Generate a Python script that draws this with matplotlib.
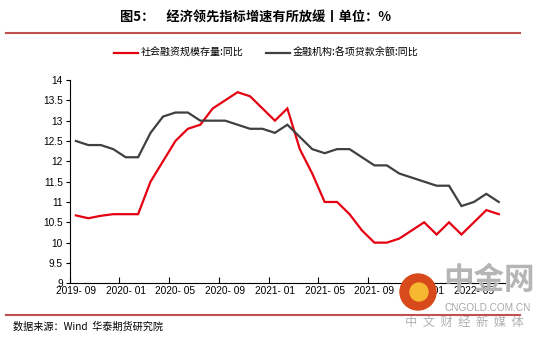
import matplotlib
matplotlib.use("Agg")
import matplotlib.pyplot as plt
from matplotlib.patches import Ellipse
from matplotlib.lines import Line2D

plt.rcParams['font.family'] = ['Liberation Sans', 'Noto Sans CJK SC', 'DejaVu Sans']

months = ['2019-09', '2019-10', '2019-11', '2019-12', '2020-01', '2020-02', '2020-03',
          '2020-04', '2020-05', '2020-06', '2020-07', '2020-08', '2020-09', '2020-10',
          '2020-11', '2020-12', '2021-01', '2021-02', '2021-03', '2021-04', '2021-05',
          '2021-06', '2021-07', '2021-08', '2021-09', '2021-10', '2021-11', '2021-12',
          '2022-01', '2022-02', '2022-03', '2022-04', '2022-05', '2022-06', '2022-07']
tsf = [10.67, 10.6, 10.66, 10.7, 10.7, 10.7, 11.5, 12.0, 12.5, 12.8, 12.9, 13.3,
       13.5, 13.7, 13.6, 13.3, 13.0, 13.3, 12.3, 11.7, 11.0, 11.0, 10.7, 10.3,
       10.0, 10.0, 10.1, 10.3, 10.5, 10.2, 10.5, 10.2, 10.5, 10.8, 10.7]
loans = [12.5, 12.4, 12.4, 12.3, 12.1, 12.1, 12.7, 13.1, 13.2, 13.2, 13.0, 13.0,
         13.0, 12.9, 12.8, 12.8, 12.7, 12.9, 12.6, 12.3, 12.2, 12.3, 12.3, 12.1,
         11.9, 11.9, 11.7, 11.6, 11.5, 11.4, 11.4, 10.9, 11.0, 11.2, 11.0]
series_names = ['社会融资规模存量:同比', '金融机构:各项贷款余额:同比']
title = '图5：    经济领先指标增速有所放缓丨单位：%'
source = '数据来源：Wind  华泰期货研究院'
yticks = [9, 9.5, 10, 10.5, 11, 11.5, 12, 12.5, 13, 13.5, 14]

W, H = 549, 340
fig = plt.figure(figsize=(W / 100, H / 100), dpi=100)
ax = fig.add_axes([69.7 / W, 1 - 283.3 / H, (505 - 69.7) / W, (283.3 - 80) / H])

x = list(range(len(months)))
l1, = ax.plot(x, tsf, color='#E60012', lw=1.6, solid_joinstyle='miter')
l2, = ax.plot(x, loans, color='#404040', lw=1.6, solid_joinstyle='miter')

ax.set_xlim(-0.5, len(months) - 0.5)
ax.set_ylim(9, 14)
ax.set_yticks(yticks)
ax.set_yticklabels([('%g' % v) for v in yticks])

major = [i - 0.5 for i in range(0, len(months), 4)]
ax.set_xticks(major)
ax.set_xticklabels([''] * len(major))
ax.set_xticks(list(range(0, len(months), 4)), minor=True)
ax.set_xticklabels([months[i].replace('-', '- ') for i in range(0, len(months), 4)], minor=True)
ax.tick_params(axis='x', which='major', direction='in', length=4, width=0.8, color='#000000')
ax.tick_params(axis='x', which='minor', length=0, pad=2, labelsize=7.3)
ax.tick_params(axis='y', direction='out', length=3, width=0.8, labelsize=7.3, pad=2)

for s in ['top', 'right']:
    ax.spines[s].set_visible(False)
for s in ['left', 'bottom']:
    ax.spines[s].set_linewidth(0.8)
    ax.spines[s].set_color('#000000')

# title & rules
fig.text(255 / W, 1 - 18 / H, title, ha='center', va='center', fontsize=9.5,
         fontweight='bold', family=['Noto Sans CJK SC', 'DejaVu Sans'])
fig.add_artist(Line2D([6 / W, 520 / W], [1 - 33 / H] * 2, color='#C0504D', lw=1.5))
fig.add_artist(Line2D([6 / W, 520 / W], [1 - 315 / H] * 2, color='#C0504D', lw=1.5))

leg = fig.legend([l1, l2], series_names, loc='center', bbox_to_anchor=(266 / W, 1 - 53 / H),
                 ncol=2, frameon=False, handlelength=2.4, handletextpad=0.3,
                 columnspacing=2.2, prop={'family': ['Noto Sans CJK SC', 'DejaVu Sans'], 'size': 7.2})

fig.text(13 / W, 1 - 327 / H, source, ha='left', va='center', fontsize=7.3,
         family=['Noto Sans CJK SC', 'DejaVu Sans'])

# watermark
fig.text(489 / W, 1 - 280 / H, '中金网', ha='center', va='center', fontsize=22,
         fontweight='bold', color='#B5B5B5', family=['Noto Sans CJK SC'], zorder=4)
fig.text(488 / W, 1 - 308 / H, 'CNGOLD.COM.CN', ha='center', va='center', fontsize=7.2,
         color='#A8A8A8', zorder=4)
fig.text(464 / W, 1 - 322 / H, '中  文  财  经  新  媒  体', ha='center', va='center',
         fontsize=8.8, color='#B0B0B0', family=['Noto Sans CJK SC'], zorder=4)
fig.add_artist(Ellipse((418 / W, 1 - 292 / H), 36 / W, 36 / H, transform=fig.transFigure,
                       color='#D84A1B', zorder=5))
fig.add_artist(Ellipse((419 / W, 1 - 292 / H), 18 / W, 18 / H, transform=fig.transFigure,
                       color='#F6B731', zorder=6))

fig.savefig('out.png', dpi=100)
